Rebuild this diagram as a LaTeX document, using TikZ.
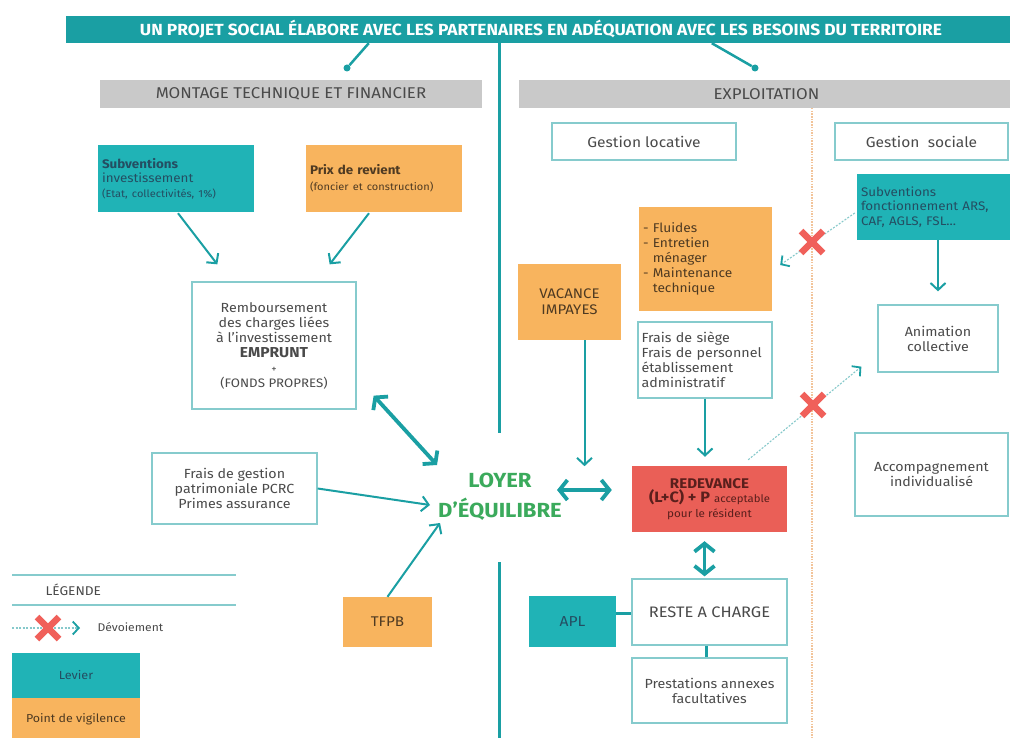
\documentclass[tikz,border=0pt]{standalone}
\usepackage{fontspec}
\setmainfont{Fira Sans}[FakeStretch=1.08]
\usetikzlibrary{arrows.meta,calc}
\definecolor{tealband}{HTML}{1A9FA3}
\definecolor{tealbox}{HTML}{20B3B6}
\definecolor{boxline}{HTML}{86CBCD}
\definecolor{orangebox}{HTML}{F8B45E}
\definecolor{redbox}{HTML}{EA5F57}
\definecolor{grayhdr}{HTML}{C9C9C9}
\definecolor{txt}{HTML}{4A4A4A}
\definecolor{navytxt}{HTML}{244E62}
\definecolor{browntxt}{HTML}{4E3A22}
\definecolor{redtxt}{HTML}{5A1F1C}
\definecolor{greentxt}{HTML}{3BAA5C}
\definecolor{xred}{HTML}{F0605A}
\definecolor{dotorange}{HTML}{F2C49A}
\definecolor{dotteal}{HTML}{86C9CB}
\tikzset{
  sz/.style 2 args={minimum width=#1pt,minimum height=#2pt},
  box/.style={draw=boxline,line width=1.3pt,fill=white,text=txt,align=center,inner sep=3pt,
    font=\fontsize{13.2}{15}\selectfont},
  tealfill/.style={fill=tealbox,text=navytxt,inner sep=4pt,font=\fontsize{12.4}{14.5}\selectfont},
  orangefill/.style={fill=orangebox,text=browntxt,inner sep=4pt,font=\fontsize{12.7}{15}\selectfont},
  hdr/.style={fill=grayhdr,text=txt,font=\fontsize{15.6}{17}\selectfont},
  link/.style={draw=tealband,line width=2pt},
  arr/.style={link,-{Straight Barb[length=7pt,width=15pt]}},
  bigarr/.style={draw=tealband,line width=3.8pt,{Straight Barb[length=8pt,width=20pt]}-{Straight Barb[length=8pt,width=20pt]}},
  dotarr/.style={draw=dotteal,line width=1.1pt,dash pattern=on 2pt off 1.5pt,
    -{Straight Barb[length=6pt,width=13pt,line width=1.8pt,color=tealband]}},
  xcross/.pic={\draw[xred,line width=6.5pt] (-11,-11)--(11,11) (-11,11)--(11,-11);},
}
\begin{document}
\begin{tikzpicture}[x=1pt,y=-1pt]
\useasboundingbox (0,0) rectangle (1010,738);
\fill[white] (0,0) rectangle (1010,738);
\begin{scope}
\clip (0,0) rectangle (1010,738);
% banner
\node[fill=tealband,text=white,sz={950}{27},font=\bfseries\fontsize{16.1}{18}\selectfont] (banner) at (541,29.5)
  {UN PROJET SOCIAL ÉLABORE AVEC LES PARTENAIRES EN ADÉQUATION AVEC LES BESOINS DU TERRITOIRE};
% headers
\node[hdr,sz={382}{28}] (hdrL) at (291,94) {MONTAGE TECHNIQUE ET FINANCIER};
\node[hdr,sz={495}{28}] (hdrR) at (766.5,94) {EXPLOITATION};
\node[circle,fill=tealband,minimum size=7pt,inner sep=0] (dL) at (347,68) {};
\node[circle,fill=tealband,minimum size=7pt,inner sep=0] (dR) at (755,68) {};
\draw[link,line width=2.5pt] ($(banner.south west)+(303,0)$) -- (dL);
\draw[link,line width=2.5pt] ($(banner.south west)+(646,0)$) -- (dR);
% central line
\coordinate (cTop) at (499,433);
\coordinate (cBot) at (499,562);
\coordinate (cEnd) at (499,740);
\draw[link,line width=3pt] (banner.south -| cTop) -- (cTop);
\draw[link,line width=3pt] (cBot) -- (cEnd);
% orange dotted separator
\coordinate (sepA) at (812,108);
\coordinate (sepB) at (812,740);
\draw[dotorange,line width=1.6pt,dash pattern=on 1.5pt off 1.2pt] (sepA) -- (sepB);

% left column
\node[tealfill,sz={156}{67},text width=148pt,align=left] (subv) at (176,178.5)
  {\textbf{Subventions}\\investissement\\{\fontsize{10.2}{12}\selectfont(Etat, collectivités, 1\%)}};
\node[orangefill,sz={156}{67},text width=148pt,align=left,font=\fontsize{12.4}{16}\selectfont] (prix) at (384,178.5)
  {\textbf{Prix de revient}\\{\fontsize{10.2}{12}\selectfont(foncier et construction)}};
\node[box,sz={164}{127}] (remb) at (274,345.5)
  {Remboursement\\des charges liées\\à l'investissement\\{\fontsize{14.4}{15}\selectfont\textbf{EMPRUNT}}\\{\fontsize{10}{14}\selectfont+}\\{\fontsize{12.3}{15.5}\selectfont(FONDS PROPRES)}};
\node[box,sz={165}{71}] (fgest) at (234.5,488.5)
  {Frais de gestion\\patrimoniale PCRC\\Primes assurance};
\node[orangefill,sz={89}{50},font=\fontsize{14.1}{16}\selectfont] (tfpb) at (387.5,622) {TFPB};
\node[text=greentxt,align=center,font=\bfseries\fontsize{20.4}{29.5}\selectfont] (loyer) at (500,497)
  {LOYER\\D'ÉQUILIBRE};

\draw[arr] ($(subv.south)+(2,1)$) -- ($(remb.north west)+(26,-17)$);
\draw[arr] ($(prix.south)+(-15,1)$) -- ($(remb.north east)+(-27,-17)$);
\draw[bigarr] ($(remb.south east)+(17,-14)$) -- ($(loyer.center)+(-63,-32)$);
\draw[arr] (fgest.east) -- ($(loyer.center)+(-70,8)$);
\draw[arr] (tfpb.north) -- ($(loyer.center)+(-60,26)$);

% right column
\node[box,sz={184}{37},font=\fontsize{14.4}{16}\selectfont] (gloc) at (644,141.5) {Gestion locative};
\node[box,sz={173}{37},font=\fontsize{14.4}{16}\selectfont] (gsoc) at (921.5,141.5) {Gestion\ \ sociale};
\node[tealfill,sz={160}{66},text width=152pt,align=left] (subvf) at (937,207)
  {Subventions\\fonctionnement ARS,\\CAF, AGLS, FSL...};
\node[orangefill,sz={133}{104},text width=125pt,align=left] (fluides) at (705.5,259)
  {- Fluides\\- Entretien\\\phantom{- }ménager\\- Maintenance\\\phantom{- }technique};
\node[orangefill,sz={103}{76},align=center,font=\fontsize{13.9}{16}\selectfont] (vacance) at (569.5,302) {VACANCE\\IMPAYES};
\node[box,sz={134}{76},text width=127pt,inner xsep=3.5pt,align=left] (fsiege) at (705,360)
  {Frais de siège\\Frais de personnel\\établissement\\administratif};
\node[fill=redbox,text=redtxt,sz={155}{66},align=center,font=\fontsize{14}{14.5}\selectfont] (redev) at (709.5,499)
  {\textbf{REDEVANCE}\\{\fontsize{15}{14.5}\selectfont\textbf{(L+C) + P}} {\fontsize{10.5}{14.5}\selectfont acceptable}\\{\fontsize{10.8}{13}\selectfont pour le résident}};
\node[box,sz={155}{66},font=\fontsize{15.2}{17}\selectfont] (reste) at (709.5,612) {RESTE A CHARGE};
\node[tealfill,sz={87}{51},align=center,font=\fontsize{14.4}{16}\selectfont] (apl) at (572.5,621.5) {APL};
\node[box,sz={155}{65}] (prest) at (709.5,690.5) {Prestations annexes\\facultatives};
\node[box,sz={120}{67}] (anim) at (938,338.5) {Animation\\collective};
\node[box,sz={153}{83}] (accomp) at (931.5,474.5) {Accompagnement\\individualisé};

\draw[arr] ($(vacance.south)+(15,0)$) -- ($(vacance.south)+(15,126)$);
\draw[arr] (fsiege.south) -- ($(redev.north)+(-4.5,-9)$);
\draw[bigarr] ($(loyer.center)+(57,-7)$) -- ($(redev.west)+(-20,-9)$);
\draw[bigarr] ($(redev.south)+(-5,9)$) -- ($(reste.north)+(-5,-2)$);
\draw[link,line width=3pt] ($(apl.east)+(0,-8.5)$) -- ($(reste.west)+(0,1)$);
\draw[link,line width=3pt] ($(reste.south)+(-3,0)$) -- ($(prest.north)+(-3,0)$);
\draw[arr] ($(subvf.south)+(1,0)$) -- ($(anim.north)+(0,-13)$);
\draw[dotarr] ($(subvf.west)+(-2,6)$) -- ($(fluides.east)+(8,6)$);
\draw[dotarr] ($(redev.north east)+(-39,-6)$) -- ($(anim.south west)+(-16,-6)$);
\coordinate (x1) at (812,242);
\coordinate (x2) at (813,405);
\pic at (x1) {xcross};
\pic at (x2) {xcross};

% legend
\coordinate (lg1a) at (12,575); \coordinate (lg1b) at (236,575);
\coordinate (lg2a) at (12,605); \coordinate (lg2b) at (236,605);
\draw[boxline,line width=1.3pt] (lg1a) -- (lg1b);
\draw[boxline,line width=1.3pt] (lg2a) -- (lg2b);
\node[anchor=west,text=txt,font=\fontsize{12.7}{14}\selectfont] (lgtitle) at (42,590) {LÉGENDE};
\coordinate (lgA) at (12,628); \coordinate (lgB) at (80,628);
\draw[dotarr] (lgA) -- (lgB);
\pic at (48,628) {xcross};
\node[anchor=west,text=txt,font=\fontsize{11.2}{13}\selectfont] (lgdev) at (94,627) {Dévoiement};
\node[tealfill,sz={128}{45},font=\fontsize{11.7}{13}\selectfont] (lglev) at (76,675.5) {Levier};
\node[orangefill,sz={128}{42},font=\fontsize{11.5}{13}\selectfont] (lgvig) at (76,719) {Point de vigilence};
\end{scope}
\end{tikzpicture}
\end{document}
